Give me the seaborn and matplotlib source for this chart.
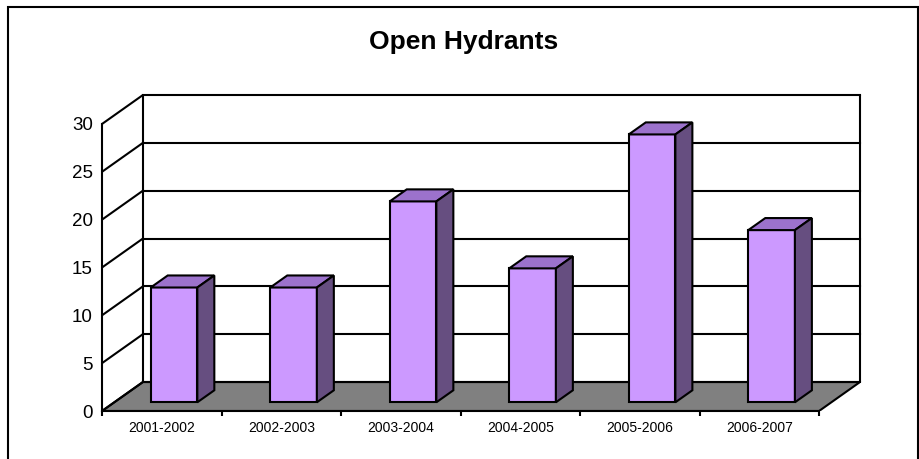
import matplotlib
matplotlib.use("Agg")
import matplotlib.pyplot as plt
from matplotlib.patches import Polygon, Rectangle
import pandas as pd
import seaborn as sns

# Data
seasons = ["2001-2002", "2002-2003", "2003-2004", "2004-2005", "2005-2006", "2006-2007"]
open_hydrants = [12, 12, 21, 14, 28, 18]
y_ticks = [0, 5, 10, 15, 20, 25, 30]
chart_title = "Open Hydrants"

sns.set_style("white")
plt.rcParams["font.family"] = ["Liberation Sans", "DejaVu Sans"]

W, H = 920, 459
fig = plt.figure(figsize=(W / 100, H / 100), dpi=100)

# oblique depth of the 3-D box, in data units (x: categories, y: values)
DX, DY = 0.3425, 3.03
FRONT_SHIFT = 0.30   # where the bars start inside the box depth
BAR_DEPTH = 0.415    # how deep each bar is, as a fraction of the box depth
EDGE = 1.5

x0, x1 = -0.5, len(seasons) - 0.5
ymax = y_ticks[-1]

left_px, right_px, bottom_px, top_px = 102, 860, 411, 95
ax = fig.add_axes([left_px / W, 1 - bottom_px / H,
                   (right_px - left_px) / W, (bottom_px - top_px) / H])

df = pd.DataFrame({"season": seasons, "count": open_hydrants})
sns.barplot(data=df, x="season", y="count", ax=ax, width=0.39,
            color="#CC99FF", saturation=1, edgecolor="black",
            linewidth=EDGE, zorder=5)
bars = list(ax.patches)

# floor
ax.add_patch(Polygon([(x0, 0), (x1, 0), (x1 + DX, DY), (x0 + DX, DY)],
                     closed=True, facecolor="#808080", edgecolor="black",
                     linewidth=EDGE, zorder=1))

# back wall gridlines and left wall diagonals
for v in y_ticks:
    ax.plot([x0 + DX, x1 + DX], [v + DY, v + DY], color="black",
            lw=EDGE, zorder=2, clip_on=False, solid_capstyle="projecting")
    ax.plot([x0, x0 + DX], [v, v + DY], color="black", lw=EDGE, zorder=2,
            clip_on=False)
for xv in (x0 + DX, x1 + DX):
    ax.plot([xv, xv], [DY, ymax + DY], color="black", lw=EDGE, zorder=2,
            clip_on=False)

# turn the flat bars into boxes: shift into the depth, add top and side faces
ddx, ddy = BAR_DEPTH * DX, BAR_DEPTH * DY
for i, p in enumerate(bars):
    p.set_x(p.get_x() + FRONT_SHIFT * DX)
    p.set_y(p.get_y() + FRONT_SHIFT * DY)
    xl, yb = p.get_x(), p.get_y()
    xr, yt = xl + p.get_width(), yb + p.get_height()
    z = 6 + i
    p.set_zorder(z)
    ax.add_patch(Polygon([(xl, yt), (xr, yt), (xr + ddx, yt + ddy), (xl + ddx, yt + ddy)],
                         closed=True, facecolor="#9C72CC", edgecolor="black",
                         linewidth=EDGE, zorder=z, joinstyle="miter"))
    ax.add_patch(Polygon([(xr, yb), (xr, yt), (xr + ddx, yt + ddy), (xr + ddx, yb + ddy)],
                         closed=True, facecolor="#664E80", edgecolor="black",
                         linewidth=EDGE, zorder=z, joinstyle="miter"))

ax.set_xlim(x0, x1 + DX)
ax.set_ylim(0, ymax + DY)
ax.set_xlabel("")
ax.set_ylabel("")

ax.set_yticks(y_ticks)
ax.tick_params(axis="y", length=3.6, width=EDGE, labelsize=13.5, pad=3,
               color="black", labelcolor="black")
ax.set_xticks(range(len(seasons)))
ax.set_xticklabels(seasons)
ax.set_xticks([i - 0.5 for i in range(len(seasons) + 1)], minor=True)
ax.tick_params(axis="x", which="major", length=0, labelsize=10, pad=7,
               labelcolor="black")
ax.tick_params(axis="x", which="minor", length=3.6, width=EDGE,
               color="black", bottom=True)

for side in ("top", "right"):
    ax.spines[side].set_visible(False)
ax.spines["left"].set_bounds(0, ymax)
ax.spines["bottom"].set_bounds(x0, x1)
for side in ("left", "bottom"):
    ax.spines[side].set_color("black")
    ax.spines[side].set_linewidth(EDGE)
    ax.spines[side].set_zorder(3)
ax.patch.set_alpha(0)

fig.text(463.5 / W, 1 - 42 / H, chart_title, ha="center", va="center",
         fontsize=19, fontweight="bold", color="black")

# chart area border
fig.add_artist(Rectangle((8 / W, -0.05), (918.5 - 8) / W, 1.05 - 7 / H,
                         transform=fig.transFigure, fill=False,
                         edgecolor="black", linewidth=EDGE, clip_on=False))

fig.savefig("out.png", dpi=100)
